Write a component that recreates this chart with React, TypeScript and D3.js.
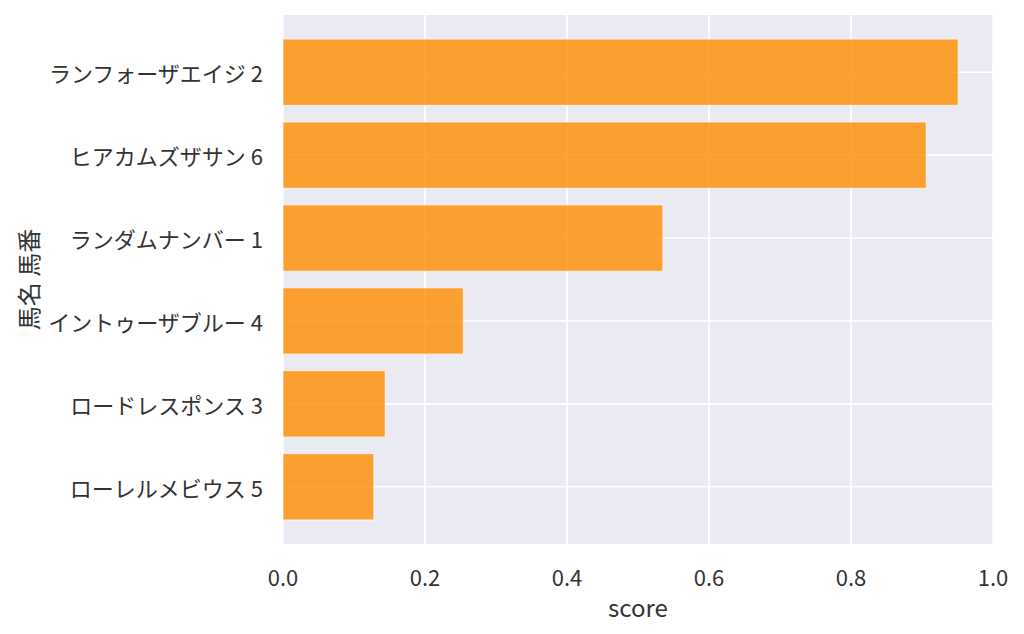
import { useEffect, useRef } from "react";
import * as d3 from "d3";

// horse names (top to bottom) and scores
const horseNames = [
  "ランフォーザエイジ 2",
  "ヒアカムズザサン 6",
  "ランダムナンバー 1",
  "イントゥーザブルー 4",
  "ロードレスポンス 3",
  "ローレルメビウス 5",
];
const scores = [0.951, 0.906, 0.535, 0.254, 0.144, 0.128];
const xTicks = [0, 0.2, 0.4, 0.6, 0.8, 1.0];

const W = 1024;
const H = 634;
const FONT = "'Noto Sans CJK JP', 'Noto Sans', sans-serif";
const TEXT = "#333";

export default function App() {
  const svgRef = useRef<SVGSVGElement>(null);

  useEffect(() => {
    if (!svgRef.current) return;
    const svg = d3.select(svgRef.current);
    svg.selectAll("*").remove();

    const left = 283, right = 993, top = 15, bottom = 544;

    const x = d3.scaleLinear().domain([0, 1]).range([left, right]);
    // matplotlib barh: bars at 0..n-1, height 0.8, 5% margins
    const n = horseNames.length;
    const lo = -0.4, hi = n - 1 + 0.4;
    const pad = (hi - lo) * 0.05;
    const y = d3.scaleLinear().domain([lo - pad, hi + pad]).range([top, bottom]);

    svg.append("rect")
      .attr("x", left).attr("y", top)
      .attr("width", right - left).attr("height", bottom - top)
      .attr("fill", "#eaeaf2");

    // grid
    svg.append("g").selectAll("line")
      .data(xTicks)
      .join("line")
      .attr("x1", d => x(d)).attr("x2", d => x(d))
      .attr("y1", top).attr("y2", bottom)
      .attr("stroke", "#fff").attr("stroke-width", 1.6);

    svg.append("g").selectAll("line")
      .data(horseNames)
      .join("line")
      .attr("x1", left).attr("x2", right)
      .attr("y1", (_, i) => y(i)).attr("y2", (_, i) => y(i))
      .attr("stroke", "#fff").attr("stroke-width", 1.6);

    // bars
    svg.append("g").selectAll("rect")
      .data(scores)
      .join("rect")
      .attr("x", x(0))
      .attr("y", (_, i) => y(i - 0.4))
      .attr("width", d => x(d) - x(0))
      .attr("height", y(0.4) - y(-0.4))
      .attr("fill", "darkorange")
      .attr("fill-opacity", 0.8)
      .attr("stroke", "#fff")
      .attr("stroke-opacity", 0.6)
      .attr("stroke-width", 1.2);

    // y tick labels
    svg.append("g").selectAll("text")
      .data(horseNames)
      .join("text")
      .attr("x", left - 20)
      .attr("y", (_, i) => y(i))
      .attr("text-anchor", "end")
      .attr("dominant-baseline", "central")
      .attr("font-family", FONT)
      .attr("font-size", 22)
      .attr("fill", TEXT)
      .text(d => d);

    // x tick labels
    svg.append("g").selectAll("text")
      .data(xTicks)
      .join("text")
      .attr("x", d => x(d))
      .attr("y", 576)
      .attr("text-anchor", "middle")
      .attr("dominant-baseline", "central")
      .attr("font-family", FONT)
      .attr("font-size", 22)
      .attr("fill", TEXT)
      .text(d => d.toFixed(1));

    svg.append("text")
      .attr("x", (left + right) / 2)
      .attr("y", 606)
      .attr("text-anchor", "middle")
      .attr("dominant-baseline", "central")
      .attr("font-family", FONT)
      .attr("font-size", 24)
      .attr("fill", TEXT)
      .text("score");

    svg.append("text")
      .attr("transform", `translate(27,${(top + bottom) / 2}) rotate(-90)`)
      .attr("text-anchor", "middle")
      .attr("dominant-baseline", "central")
      .attr("font-family", FONT)
      .attr("font-size", 24)
      .attr("fill", TEXT)
      .text("馬名 馬番");
  }, []);

  return (
    <svg
      ref={svgRef}
      width={W}
      height={H}
      style={{ position: "absolute", left: 0, top: 0, background: "#fff" }}
    />
  );
}
